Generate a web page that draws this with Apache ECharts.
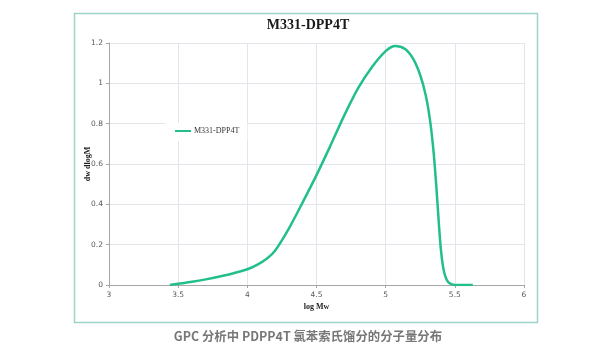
<!DOCTYPE html>
<html>
<head>
<meta charset="utf-8">
<script src="https://cdn.jsdelivr.net/npm/echarts@6/dist/echarts.min.js"></script>
<style>html,body{margin:0;padding:0;background:#fff;}#c{width:616px;height:362px;}</style>
</head>
<body>
<div id="c"></div>
<script>
var titleText = 'M331-DPP4T';
var seriesName = 'M331-DPP4T';
var captionText = 'GPC 分析中 PDPP4T 氯苯索氏馏分的分子量分布';
var xName = 'log Mw';
var yName = 'dw dlogM';
var logMw = [3.44, 3.5, 3.6, 3.7, 3.8, 3.9, 4.0, 4.07, 4.14, 4.2, 4.3, 4.4, 4.5, 4.6, 4.7, 4.8, 4.9, 5.0, 5.07, 5.14, 5.2, 5.25, 5.29, 5.32, 5.345, 5.365, 5.385, 5.4, 5.415, 5.43, 5.45, 5.475, 5.5, 5.56, 5.63];
var dwdlogM = [0.0, 0.006, 0.016, 0.028, 0.042, 0.058, 0.078, 0.1, 0.13, 0.17, 0.28, 0.41, 0.545, 0.69, 0.84, 0.975, 1.08, 1.16, 1.185, 1.17, 1.12, 1.04, 0.94, 0.82, 0.67, 0.5, 0.3, 0.17, 0.09, 0.045, 0.016, 0.004, 0.0, 0.0, 0.0];

var data = logMw.map(function (x, i) { return [x, dwdlogM[i]]; });
var chart = echarts.init(document.getElementById('c'), null, { renderer: 'canvas' });
var labelColor = '#595959';
chart.setOption({
  animation: false,
  backgroundColor: '#fff',
  graphic: [
    { type: 'rect', left: 72, top: 11, shape: { width: 463, height: 309 }, style: { fill: 'none', stroke: '#9fd4cc', lineWidth: 1.5 }, z: -10 },
    { type: 'text', left: 'center', top: 330, style: { text: captionText, fill: '#777', font: 'bold 12.4px "Noto Sans CJK SC", sans-serif' } }
  ],
  title: {
    text: titleText, left: 'center', top: 13,
    textStyle: { fontFamily: '"Liberation Serif", serif', fontSize: 14, fontWeight: 'bold', color: '#1a1a1a' }
  },
  legend: {
    left: 165, top: 123, itemWidth: 16, itemHeight: 10, itemGap: 4,
    padding: [4, 8, 6, 10],
    backgroundColor: '#fff',
    icon: 'path://M0,4 L16,4 L16,6 L0,6 Z',
    textStyle: { fontFamily: '"Liberation Serif", serif', fontSize: 8, color: '#333', padding: [0, 0, 0, -2] },
    data: [seriesName]
  },
  grid: { left: 109, right: 92, top: 43, bottom: 77, containLabel: false },
  xAxis: {
    type: 'value', min: 3, max: 6, interval: 0.5,
    name: xName, nameLocation: 'middle', nameGap: 18, nameMoveOverlap: false,
    nameTextStyle: { fontFamily: '"Liberation Serif", serif', fontSize: 8, fontWeight: 'bold', color: '#222' },
    axisLine: { show: true, lineStyle: { color: '#a6a6a6' } },
    axisTick: { show: true, length: 3, lineStyle: { color: '#a6a6a6' } },
    axisLabel: { fontFamily: '"DejaVu Sans", sans-serif', fontSize: 7.5, color: labelColor, margin: 6 },
    splitLine: { show: true, lineStyle: { color: '#e3e5ea' } }
  },
  yAxis: {
    type: 'value', min: 0, max: 1.2, interval: 0.2,
    name: yName, nameLocation: 'middle', nameGap: 17, nameRotate: 90, nameMoveOverlap: false,
    nameTextStyle: { fontFamily: '"Liberation Serif", serif', fontSize: 8, fontWeight: 'bold', color: '#222' },
    axisLine: { show: true, lineStyle: { color: '#a6a6a6' } },
    axisTick: { show: true, length: 3, lineStyle: { color: '#a6a6a6' } },
    axisLabel: { fontFamily: '"DejaVu Sans", sans-serif', fontSize: 7.5, color: labelColor, margin: 6 },
    splitLine: { show: true, lineStyle: { color: '#e3e5ea' } }
  },
  series: [{
    name: seriesName, type: 'line', data: data, smooth: 0.3, showSymbol: false,
    lineStyle: { color: '#22bf8c', width: 2.5 }, itemStyle: { color: '#22bf8c' }
  }]
});
</script>
</body>
</html>
